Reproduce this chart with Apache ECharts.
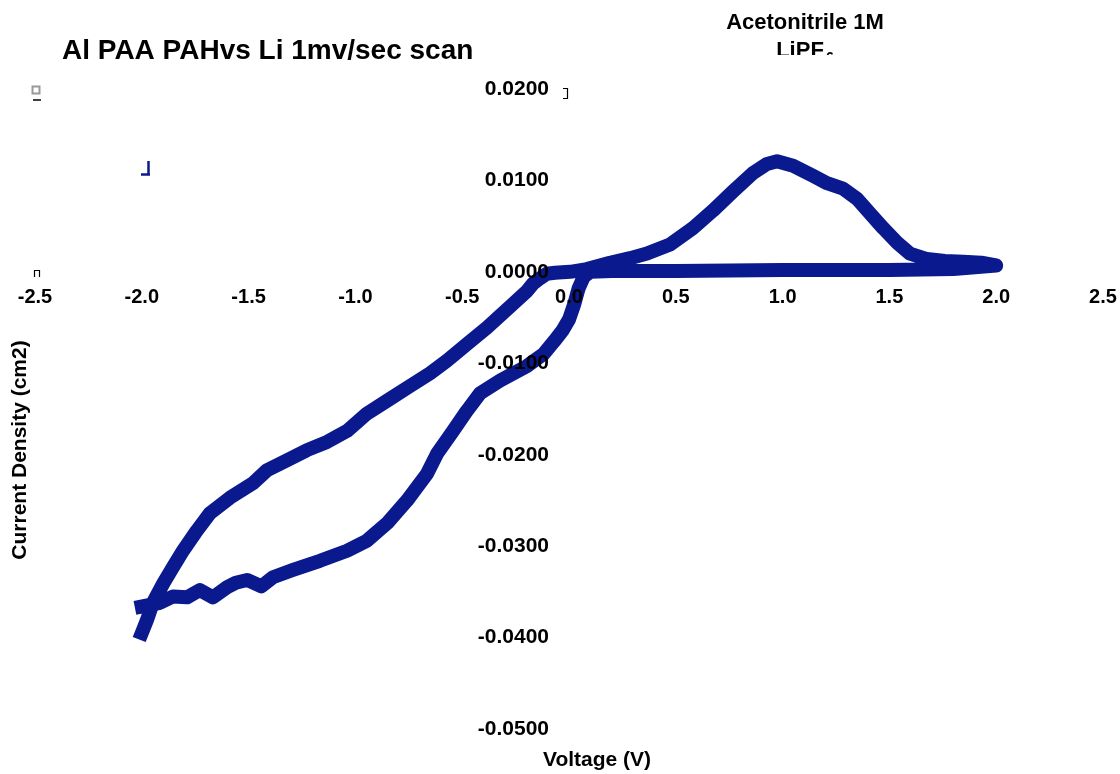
<!DOCTYPE html>
<html>
<head>
<meta charset="utf-8">
<script src="https://cdn.jsdelivr.net/npm/echarts@6/dist/echarts.min.js"></script>
<style>html,body{margin:0;padding:0;background:#fff;}#c{width:1120px;height:774px;}</style>
</head>
<body>
<div id="c"></div>
<script>
// Voltage (V) values along the scan, in order
const voltage = [
  -2.00,-1.976,-1.948,-1.90,-1.854,-1.807,-1.742,-1.681,-1.587,-1.479,-1.414,-1.320,-1.227,-1.133,-1.039,
  -0.946,-0.852,-0.758,-0.651,-0.571,-0.478,-0.384,-0.262,-0.197,-0.169,-0.136,-0.103,-0.066,0.005,0.084,
  0.192,0.286,0.365,0.473,0.581,0.674,0.768,0.861,0.927,0.974,1.049,1.142,1.208,1.283,1.348,1.409,1.470,
  1.536,1.596,1.676,1.760,1.845,1.930,2.000,
  1.800,1.500,1.000,0.500,0.200,0.100,
  0.070,0.045,0.025,0.000,-0.030,-0.070,-0.120,-0.197,-0.323,-0.417,-0.478,-0.543,-0.618,-0.665,-0.758,-0.852,
  -0.946,-1.039,-1.166,-1.292,-1.386,-1.440,-1.507,-1.560,-1.601,-1.667,-1.728,-1.788,-1.854,-1.915,-2.000
];
// Current density values, same order
const current = [
  -0.0395,-0.0381,-0.0362,-0.0341,-0.0323,-0.0305,-0.0283,-0.0264,-0.0247,-0.0231,-0.0217,-0.0206,-0.0195,-0.0186,-0.0174,
  -0.0155,-0.0141,-0.0127,-0.0111,-0.0097,-0.0079,-0.0061,-0.0035,-0.0021,-0.0013,-0.0007,-0.0002,-0.0001,0.0000,0.0003,
  0.0010,0.0015,0.0020,0.0030,0.0048,0.0067,0.0088,0.0108,0.0118,0.0121,0.0116,0.0105,0.0097,0.0091,0.0080,0.0064,0.0048,
  0.0032,0.0020,0.0014,0.0012,0.0011,0.0010,0.0007,
  0.0003,0.0002,0.0002,0.0001,0.0001,0.0000,
  -0.0005,-0.0018,-0.0035,-0.0052,-0.0064,-0.0076,-0.0090,-0.0103,-0.0119,-0.0133,-0.0152,-0.0174,-0.0199,-0.0221,-0.0250,-0.0275,
  -0.0294,-0.0305,-0.0316,-0.0326,-0.0334,-0.0344,-0.0337,-0.0340,-0.0345,-0.0356,-0.0348,-0.0356,-0.0355,-0.0362,-0.0366
];
const xTicks = {min: -2.5, max: 2.5, step: 0.5};
const yTicks = {min: -0.05, max: 0.02, step: 0.01};

const chart = echarts.init(document.getElementById('c'), null, {renderer: 'canvas'});
const pts = voltage.map((v, i) => [v, current[i]]);
const F = 'Liberation Sans, Arial, sans-serif';
const hidden = {show: false};
const G = {left: 35, right: 17, top: 89, bottom: 45};
chart.setOption({
  animation: false,
  backgroundColor: '#fff',
  grid: Object.assign({containLabel: false, outerBoundsMode: 'none'}, G),
  xAxis: {
    type: 'value', position: 'bottom', min: xTicks.min, max: xTicks.max, interval: xTicks.step, z: 10,
    axisLine: hidden, axisTick: {show: false}, splitLine: {show: false},
    axisLabel: {margin: 16, fontFamily: F, fontWeight: 'bold', fontSize: 20, color: '#000',
      formatter: v => v.toFixed(1), showMinLabel: true, showMaxLabel: true, hideOverlap: false}
  },
  yAxis: {
    type: 'value', position: 'left', min: yTicks.min, max: yTicks.max, interval: yTicks.step, z: 10,
    axisLine: hidden, axisTick: {show: false}, splitLine: {show: false},
    axisLabel: {margin: 20, fontFamily: F, fontWeight: 'bold', fontSize: 21, color: '#000',
      formatter: v => v.toFixed(4), hideOverlap: false}
  },
  series: [{
    type: 'line', data: pts, symbol: 'none', smooth: false, z: 2,
    lineStyle: {color: '#0a1a8e', width: 14, join: 'round', cap: 'square'}
  }],
  graphic: [
    {type: 'text', x: 62, y: 51, style: {text: 'Al PAA PAHvs Li 1mv/sec scan', font: 'bold 28px ' + F, fill: '#000', textVerticalAlign: 'middle'}},
    {type: 'text', x: 805, y: 23, style: {text: 'Acetonitrile 1M', font: 'bold 22px ' + F, fill: '#000', textAlign: 'center', textVerticalAlign: 'middle'}},
    {type: 'text', x: 800, y: 51, style: {text: 'LiPF', font: 'bold 22px ' + F, fill: '#000', textAlign: 'center', textVerticalAlign: 'middle'}},
    {type: 'text', x: 826, y: 51, style: {text: '6', font: 'bold 14px ' + F, fill: '#000'}},
    {type: 'rect', shape: {x: 760, y: 55, width: 100, height: 25}, style: {fill: '#fff'}, z: 100},
    {type: 'text', x: 597, y: 760, style: {text: 'Voltage (V)', font: 'bold 21px ' + F, fill: '#000', textAlign: 'center', textVerticalAlign: 'middle'}},
    {type: 'text', x: 20, y: 450, rotation: Math.PI / 2, style: {text: 'Current Density (cm2)', font: 'bold 21px ' + F, fill: '#000', textAlign: 'center', textVerticalAlign: 'middle'}},
    {type: 'rect', shape: {x: 32.5, y: 86.5, width: 7, height: 7}, style: {fill: 'none', stroke: '#999', lineWidth: 2}},
    {type: 'line', shape: {x1: 33, y1: 100, x2: 41, y2: 100}, style: {stroke: '#000', lineWidth: 1.5}},
    {type: 'line', shape: {x1: 148.5, y1: 161, x2: 148.5, y2: 175}, style: {stroke: '#0a1a8e', lineWidth: 2.5}},
    {type: 'line', shape: {x1: 141, y1: 174.5, x2: 150, y2: 174.5}, style: {stroke: '#0a1a8e', lineWidth: 2.5}},
    {type: 'polyline', shape: {points: [[34.5, 277], [34.5, 270.5], [39.5, 270.5], [39.5, 277]]}, style: {stroke: '#000', fill: 'none', lineWidth: 1.2}},
    {type: 'polyline', shape: {points: [[563, 88.5], [567.5, 88.5], [567.5, 98.5], [563, 98.5]]}, style: {stroke: '#000', fill: 'none', lineWidth: 1.2}}
  ]
});
// place both axes through the origin (axes cross at zero)
const origin = chart.convertToPixel({gridIndex: 0}, [0, 0]);
const W = chart.getWidth(), H = chart.getHeight();
chart.setOption({
  xAxis: {offset: origin[1] - (H - G.bottom)},
  yAxis: {offset: G.left - origin[0]}
});
</script>
</body>
</html>
